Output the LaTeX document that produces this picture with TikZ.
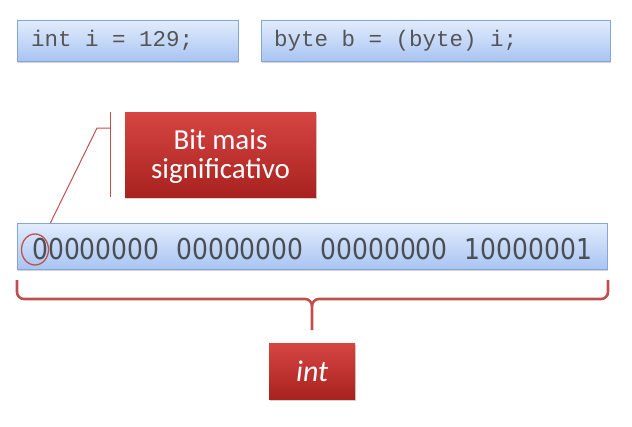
\documentclass[tikz,border=0pt]{standalone}
\usepackage{fontspec}
\setmainfont{Carlito}
\newfontfamily\codefont{Liberation Mono}
\newfontfamily\bitfont{DejaVu Sans}
\usetikzlibrary{shadows,shapes.geometric}
\definecolor{bluetop}{HTML}{E2ECFC}
\definecolor{bluebot}{HTML}{A8C4F2}
\definecolor{blueedge}{HTML}{86A6DA}
\definecolor{redtop}{HTML}{D64542}
\definecolor{redbot}{HTML}{A8221F}
\definecolor{redline}{HTML}{C0504D}
\definecolor{codegray}{HTML}{555555}
\definecolor{bitgray}{HTML}{4A4F57}
\tikzset{
  bluebox/.style={draw=blueedge, line width=0.8pt, top color=bluetop, bottom color=bluebot,
    drop shadow={shadow xshift=1pt, shadow yshift=-2pt, opacity=0.35}, anchor=north west, inner sep=0pt},
  redbox/.style={top color=redtop, bottom color=redbot, text=white,
    drop shadow={shadow xshift=1pt, shadow yshift=-2pt, opacity=0.35}, anchor=north west, inner sep=0pt, align=center},
  codetext/.style={anchor=west, text=codegray, inner sep=0pt, font=\codefont\fontsize{22.5}{24}\selectfont},
  calloutline/.style={draw=redline, line width=1pt},
  bracestyle/.style={draw=redline, line width=2.6pt}
}
\begin{document}
\begin{tikzpicture}[x=1pt,y=-1pt]
\useasboundingbox (0,0) rectangle (632,426);
% code boxes
\node[bluebox, minimum width=221pt, minimum height=41pt] (code1) at (17,20) {};
\node[codetext] (t1) at (31,40.5) {int i = 129;};
\node[bluebox, minimum width=349pt, minimum height=41pt] (code2) at (261,20) {};
\node[codetext] (t2) at (274,40.5) {byte b = (byte) i;};
% red callout box
\node[redbox, minimum width=191pt, minimum height=85pt] (msb) at (125,112) {};
\node[text=white, align=center, inner sep=0pt, font=\fontsize{29}{29}\selectfont] (msbtext) at (220.5,157) {Bit mais\\significativo};
% callout line (drawn behind the bits box)
\coordinate (cv1) at (110,112);
\coordinate (cv2) at (110,197);
\coordinate (ch) at (110,128);
\coordinate (ck) at (97,128);
\coordinate (circtip) at (42,240);
\draw[calloutline] (cv1) -- (cv2);
\draw[calloutline] (ch) -- (ck) -- (circtip);
% bits box
\node[bluebox, minimum width=590pt, minimum height=46pt] (bits) at (17,223) {};
\node[anchor=west, text=bitgray, inner sep=0pt, font=\bitfont\fontsize{25}{26}\selectfont] (bittext) at (32,249) {\scalebox{1}[1.15]{00000000\hspace{17pt}00000000\hspace{17pt}00000000\hspace{17pt}10000001}};
\node[draw=redline, line width=1.3pt, ellipse, minimum width=27pt, minimum height=31pt, inner sep=0pt] (circ) at (35,249.5) {};
% brace
\coordinate (bl) at (17,280);
\coordinate (br) at (608,280);
\coordinate (btip) at (312,330);
\draw[bracestyle] (bl) -- (17,292) to[out=-90,in=180] (24,299) -- (305,299) to[out=0,in=90] (312,306) -- (btip);
\draw[bracestyle] (312,306) to[out=90,in=180] (319,299) -- (601,299) to[out=0,in=-90] (608,292) -- (br);
% int box
\node[redbox, minimum width=86pt, minimum height=56pt, font=\itshape\fontsize{30}{32}\selectfont] (intbox) at (269,343) {int};
\end{tikzpicture}
\end{document}
